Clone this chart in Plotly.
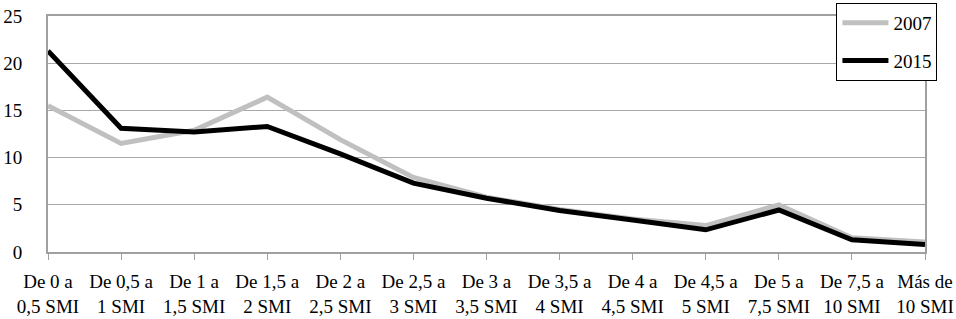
import plotly.graph_objects as go

categories = ["De 0 a<br>0,5 SMI", "De 0,5 a<br>1 SMI", "De 1 a<br>1,5 SMI", "De 1,5 a<br>2 SMI",
              "De 2 a<br>2,5 SMI", "De 2,5 a<br>3 SMI", "De 3 a<br>3,5 SMI", "De 3,5 a<br>4 SMI",
              "De 4 a<br>4,5 SMI", "De 4,5 a<br>5 SMI", "De 5 a<br>7,5 SMI", "De 7,5 a<br>10 SMI",
              "Más de<br>10 SMI"]
values_2007 = [15.5, 11.5, 12.9, 16.4, 11.9, 7.9, 5.8, 4.5, 3.5, 2.8, 5.0, 1.5, 1.05]
values_2015 = [21.3, 13.1, 12.7, 13.3, 10.4, 7.3, 5.7, 4.4, 3.4, 2.35, 4.45, 1.3, 0.8]
x_pos = list(range(len(categories)))

FONT = "'Liberation Serif', 'Times New Roman', serif"

fig = go.Figure()
fig.add_trace(go.Scatter(x=x_pos, y=values_2007, mode="lines", name="2007",
                         line=dict(color="#c0c0c0", width=5), legendgroup="a"))
fig.add_trace(go.Scatter(x=x_pos, y=values_2015, mode="lines", name="2015",
                         line=dict(color="#000000", width=5), legendgroup="b"))

fig.update_layout(
    width=956, height=319,
    margin=dict(l=48, r=31, t=16, b=67, autoexpand=False),
    paper_bgcolor="white", plot_bgcolor="white",
    font=dict(family=FONT, size=19, color="black"),
    showlegend=True,
    legend=dict(x=0.899, y=1.055, xanchor="left", yanchor="top",
                bgcolor="white", bordercolor="black", borderwidth=1,
                font=dict(family=FONT, size=19), tracegroupgap=10,
                itemwidth=46),
    xaxis=dict(range=[0, 12], tickmode="array", tickvals=x_pos, ticktext=categories,
               automargin=False,
               showgrid=False, zeroline=False, showline=True, linecolor="#a0a0a0", linewidth=2,
               mirror=True, ticks="outside", ticklen=6, tickcolor="#a0a0a0", tickwidth=1,
               ticklabelstandoff=5, tickfont=dict(family=FONT, size=19)),
    yaxis=dict(range=[0, 25], tickvals=[0, 5, 10, 15, 20, 25], showgrid=True,
               automargin=False,
               gridcolor="#a8a8a8", gridwidth=1, zeroline=False, showline=True,
               linecolor="#a0a0a0", linewidth=2, mirror=True, ticks="",
               ticklabelstandoff=20, tickfont=dict(family=FONT, size=19)),
)

fig.write_html("out.html", config={"displayModeBar": False},
               post_script="document.body.style.margin='0';")
